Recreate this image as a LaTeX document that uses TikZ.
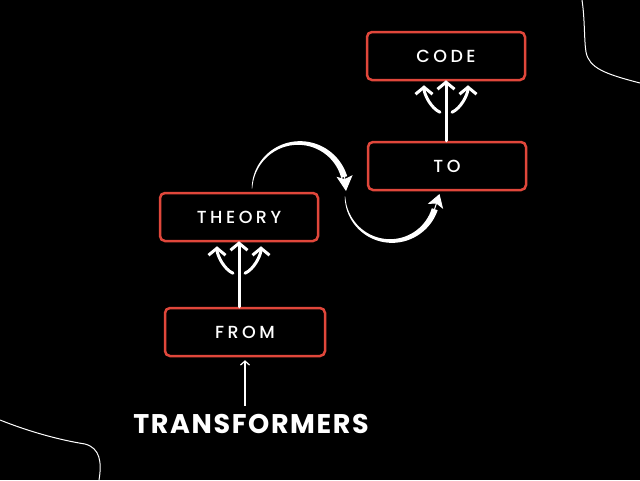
\documentclass[tikz,border=0pt]{standalone}
\usepackage{fontspec}
\setmainfont{Poppins}
\newfontfamily\boxfont[LetterSpace=20]{Poppins Medium}
\newfontfamily\titlefont[LetterSpace=6]{Poppins}
\usetikzlibrary{arrows.meta,calc}
\definecolor{boxred}{HTML}{E0473B}
\newcommand\mytrident[1]{%
  \draw[trident] ($(#1.south)+(-6,31)$) .. controls +(-9,-4) and +(0,9) .. ($(#1.south)+(-22,4)$);
  \draw[trident] ($(#1.south)+(6,31)$) .. controls +(9,-4) and +(0,9) .. ($(#1.south)+(22,4)$);
}
\begin{document}
\begin{tikzpicture}[x=1pt,y=-1pt,
  stepbox/.style={draw=boxred, line width=2.5pt, rounded corners=5pt,
    minimum width=158pt, minimum height=48pt, text=white,
    font=\boxfont\fontsize{17.5}{17.5}\selectfont},
  trident/.style={white, line width=3pt, line cap=round, line join=round,
    -{Straight Barb[length=7pt,width=17pt]}},
  swoosh/.style={white},
  deco/.style={white, line width=1pt}]
\fill[black] (0,0) rectangle (640,480);
\useasboundingbox (0,0) rectangle (640,480);

% decorative curves
\draw[deco] (582,0) .. controls (585,20) and (584,40) .. (586,52)
  .. controls (589,68) and (605,74) .. (640,83);
\draw[deco] (0,420) .. controls (30,432) and (60,440) .. (85,444)
  .. controls (100,448) and (102,462) .. (99,480);

% boxes
\node[stepbox] (code) at (446,56) {CODE};
\node[stepbox] (to) at (447,166) {TO};
\node[stepbox] (theory) at (239,217) {THEORY};
\node[stepbox, minimum width=160pt] (from) at (245,332) {FROM};
\node[text=white, font=\titlefont\bfseries\fontsize{27}{27}\selectfont] (tr) at (251,424) {TRANSFORMERS};

% tridents
\draw[trident] (from.north -| theory.south) -- ([yshift=1pt]theory.south);
\mytrident{theory}
\draw[trident] (to.north -| code.south) -- ([yshift=1pt]code.south);
\mytrident{code}

% small arrow
\draw[white, line width=1.2pt, shorten <=5pt, shorten >=3pt,
  -{Straight Barb[length=4pt,width=9pt]}] (tr.north -| from.south) -- (from.south);

% swoosh 1 (theory -> to)
\fill[swoosh] plot[domain=178:16, samples=60]
  ({299+(47+0.3+2.8*(178-\x)/162)*cos(\x)}, {190-(47+0.3+2.8*(178-\x)/162)*sin(\x)})
  -- plot[domain=16:178, samples=60]
  ({299+(47-0.3-2.8*(178-\x)/162)*cos(\x)}, {190-(47-0.3-2.8*(178-\x)/162)*sin(\x)}) -- cycle;
\coordinate (s1a) at (344.5,176);
\coordinate (s1b) at (346,191);
\draw[white, line width=1pt, -{Stealth[length=15pt,width=16pt,inset=3pt]}] (s1a) -- (s1b);

% swoosh 2
\fill[swoosh] plot[domain=182:342, samples=60]
  ({391+(46+0.3+2.8*(\x-182)/160)*cos(\x)}, {195-(46+0.3+2.8*(\x-182)/160)*sin(\x)})
  -- plot[domain=342:182, samples=60]
  ({391+(46-0.3-2.8*(\x-182)/160)*cos(\x)}, {195-(46-0.3-2.8*(\x-182)/160)*sin(\x)}) -- cycle;
\coordinate (s2a) at (434.6,209);
\coordinate (s2b) at (439.5,194);
\draw[white, line width=1pt, -{Stealth[length=13pt,width=16pt,inset=3pt]}] (s2a) -- (s2b);
\end{tikzpicture}
\end{document}
